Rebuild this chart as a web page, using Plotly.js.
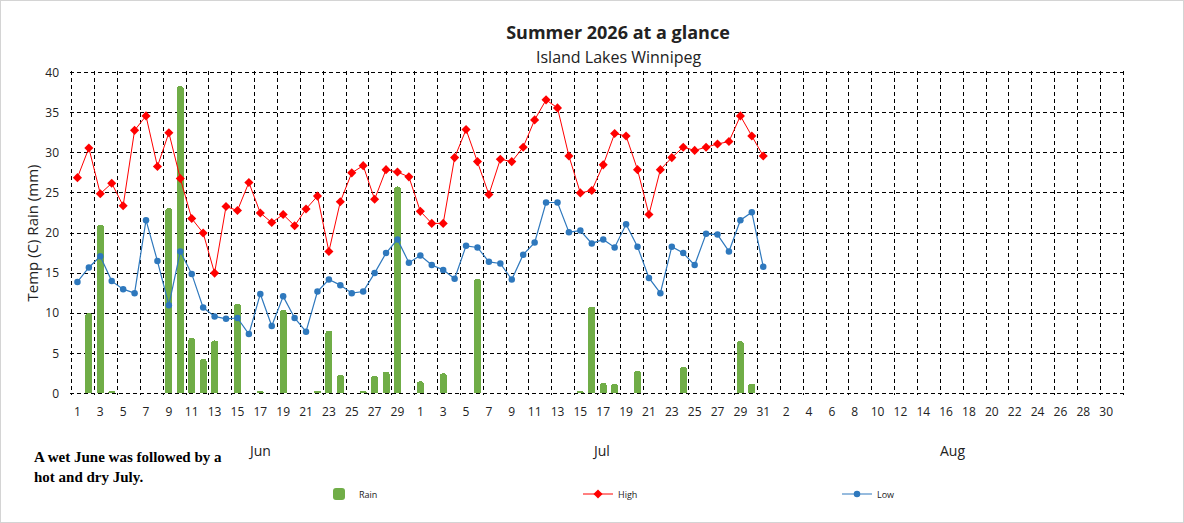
<!DOCTYPE html>
<html>
<head>
<meta charset="utf-8">
<script src="https://cdn.plot.ly/plotly-3.0.1.min.js"></script>
<style>
  body { margin: 0; background: #fff; }
  #wrap { position: relative; width: 1184px; height: 523px; }
  #frame { position: absolute; left: 0; top: 0; width: 1184px; height: 523px; box-sizing: border-box;
           border: 1px solid #d4d4d4; pointer-events: none; }
</style>
</head>
<body>
<div id="wrap">
  <div id="chart"></div>
  <div id="frame"></div>
</div>
<script>
// months shown on the axis and their lengths
const months = ["Jun", "Jul", "Aug"];
const monthDays = [30, 31, 31];

// daily values, Jun 1 .. Jul 31
const high = [
  26.9, 30.6, 24.9, 26.2, 23.4, 32.8, 34.6, 28.3, 32.5, 26.8,
  21.8, 20.0, 15.0, 23.3, 22.8, 26.3, 22.5, 21.3, 22.3, 20.9,
  23.0, 24.6, 17.7, 23.9, 27.5, 28.4, 24.2, 27.9, 27.6, 27.0,
  22.7, 21.2, 21.2, 29.4, 32.9, 28.9, 24.8, 29.2, 28.9, 30.7,
  34.1, 36.6, 35.6, 29.6, 25.0, 25.3, 28.5, 32.4, 32.1, 27.9,
  22.3, 27.9, 29.4, 30.7, 30.3, 30.7, 31.1, 31.4, 34.6, 32.1, 29.6
];
const low = [
  13.9, 15.7, 17.1, 14.0, 13.0, 12.5, 21.6, 16.5, 11.0, 17.7,
  14.9, 10.7, 9.6, 9.3, 9.4, 7.4, 12.4, 8.4, 12.1, 9.4,
  7.7, 12.7, 14.2, 13.5, 12.5, 12.7, 15.0, 17.5, 19.2, 16.3,
  17.2, 16.0, 15.4, 14.3, 18.4, 18.2, 16.4, 16.2, 14.2, 17.3,
  18.8, 23.8, 23.8, 20.1, 20.3, 18.7, 19.2, 18.2, 21.1, 18.3,
  14.4, 12.5, 18.3, 17.5, 16.0, 19.9, 19.8, 17.7, 21.6, 22.6, 15.8
];
const rain = [
  0, 10.0, 21.0, 0.3, 0, 0, 0, 0, 23.1, 38.3,
  6.9, 4.3, 6.6, 0, 11.2, 0, 0.3, 0, 10.4, 0,
  0, 0.3, 7.8, 2.3, 0, 0.3, 2.2, 2.7, 25.8, 0,
  1.5, 0, 2.5, 0, 0, 14.3, 0, 0, 0, 0,
  0, 0, 0, 0, 0.3, 10.8, 1.3, 1.2, 0, 2.8,
  0, 0, 0, 3.3, 0, 0, 0, 0, 6.5, 1.2, 0
];

// day number labels for every day of the three months
const dayLabels = [];
monthDays.forEach(n => { for (let d = 1; d <= n; d++) dayLabels.push(String(d)); });
const totalDays = dayLabels.length;

const x = high.map((v, i) => i + 1);
const tickVals = [], tickText = [];
for (let i = 1; i <= totalDays; i += 2) { tickVals.push(i); tickText.push(dayLabels[i - 1]); }

const FONT = "'Open Sans', 'Noto Sans', sans-serif";
const GRID = "4px,3px";

const traces = [
  { type: "bar", name: "Rain", x: x, y: rain, width: 0.62,
    marker: { color: "#70ad47", cornerradius: 3 } },
  { type: "scatter", mode: "lines+markers", name: "High", x: x, y: high,
    line: { color: "#ff0000", width: 1 },
    marker: { symbol: "diamond", size: 7, color: "#ff0000" } },
  { type: "scatter", mode: "lines+markers", name: "Low", x: x, y: low,
    line: { color: "#2e78bd", width: 1.2 },
    marker: { symbol: "circle", size: 6.5, color: "#2e78bd" } },
  // empty trace so the boundary-grid axis gets drawn
  { type: "scatter", x: [], y: [], xaxis: "x2", yaxis: "y", showlegend: false, hoverinfo: "skip" }
];

const plotL = 70, plotR = 1125, plotT = 71, plotB = 395;
const pw = plotR - plotL, ph = plotB - plotT;
const px = v => (v - plotL) / pw;
const py = v => (plotB - v) / ph;

const monthX = [259, 601, 952];
const xRange = [0.35, totalDays + 0.65];

const layout = {
  width: 1184, height: 523,
  margin: { l: plotL, r: 1184 - plotR, t: plotT, b: 523 - plotB },
  paper_bgcolor: "#fff", plot_bgcolor: "#fff",
  font: { family: FONT, color: "#222", size: 12 },
  title: { text: "<b>Summer 2026 at a glance</b>", x: 618 / 1184, xref: "container",
           xanchor: "center", y: 1 - 33 / 523, yanchor: "middle",
           font: { size: 18, color: "#222", family: FONT } },
  showlegend: true,
  legend: { orientation: "h", x: px(319), y: py(494), xanchor: "left", yanchor: "middle",
            entrywidth: 214, entrywidthmode: "pixels", font: { size: 9, color: "#222" },
            bgcolor: "rgba(0,0,0,0)" },
  bargap: 0,
  xaxis: { range: xRange, tickmode: "array", tickvals: tickVals, ticktext: tickText,
           showgrid: false, zeroline: false, showline: false, ticks: "",
           ticklabelstandoff: 8, tickfont: { size: 12, color: "#222" } },
  xaxis2: { overlaying: "x", anchor: "y", range: xRange, tick0: 0.5, dtick: 2,
            showgrid: true, gridcolor: "#000", gridwidth: 1, griddash: GRID,
            showticklabels: false, ticks: "", zeroline: false, showline: false },
  yaxis: { range: [-0.2, 40.2], tick0: 0, dtick: 5, showgrid: true, gridcolor: "#000", gridwidth: 1,
           griddash: GRID, zeroline: false, showline: false, ticks: "", ticklabelstandoff: 10,
           tickfont: { size: 12, color: "#222" },
           title: { text: "Temp (C) Rain (mm)", font: { size: 15, color: "#222" }, standoff: 3 } },
  yaxis2: { overlaying: "y", side: "right", anchor: "x", range: [-0.2, 40.2], tick0: 0, dtick: 5,
            showgrid: false, zeroline: false, showline: true, linecolor: "#9a9a9a", linewidth: 1,
            ticks: "", ticklabelstandoff: 8, tickfont: { size: 12, color: "#222" } },
  annotations: [
    { text: "Island Lakes Winnipeg", xref: "paper", yref: "paper", x: px(618), y: py(57),
      xanchor: "center", yanchor: "middle", showarrow: false, font: { size: 16, color: "#222" } },
    { text: "A wet June was followed by a<br>hot and dry July.", xref: "paper", yref: "paper",
      x: px(32), y: py(467), xanchor: "left", yanchor: "middle", align: "left", showarrow: false,
      font: { family: "'Liberation Serif', serif", size: 15, color: "#000", weight: "bold" } }
  ].concat(months.map((m, i) => ({
      text: m, xref: "paper", yref: "paper", x: px(monthX[i]), y: py(450),
      xanchor: "center", yanchor: "middle", showarrow: false, font: { size: 14, color: "#222" }
  })))
};

Plotly.newPlot("chart", traces, layout, { displayModeBar: false, staticPlot: true });
</script>
</body>
</html>
